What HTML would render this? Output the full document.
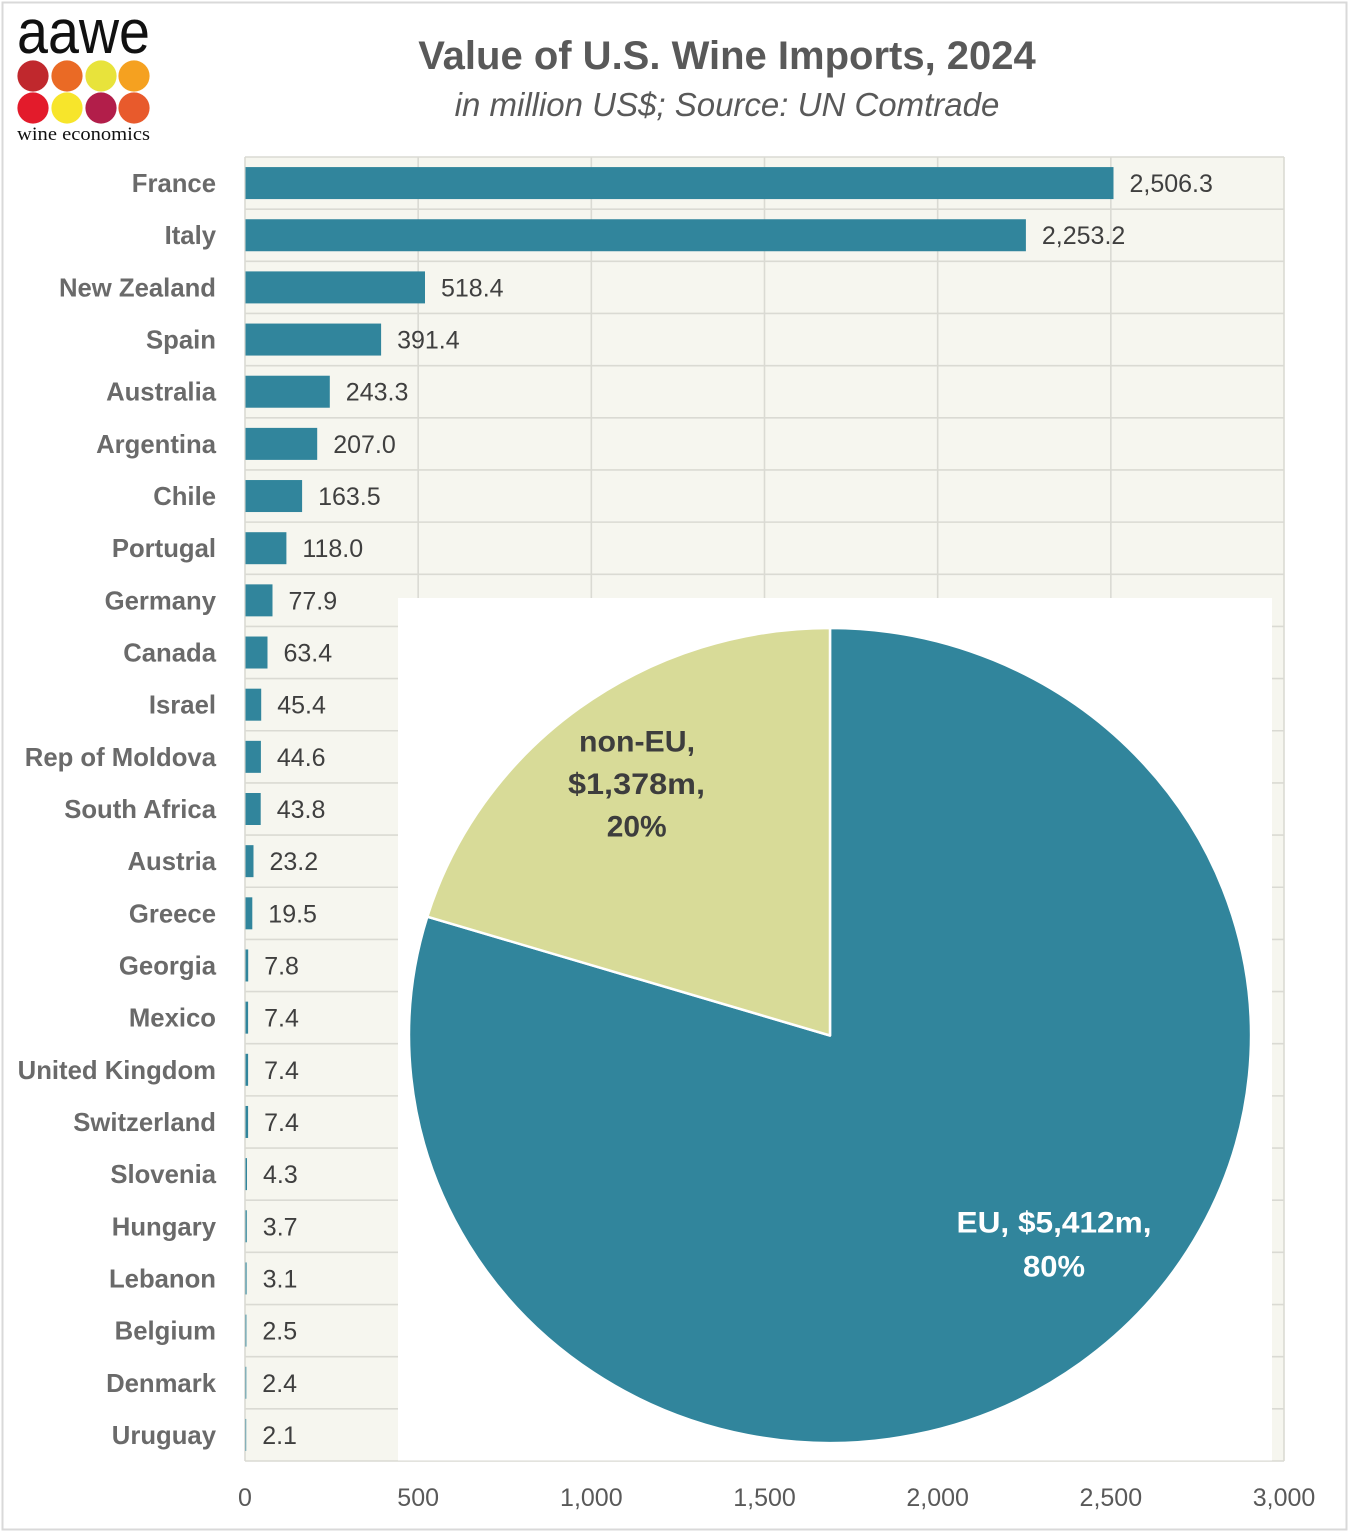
<!DOCTYPE html>
<html><head><meta charset="utf-8"><style>
html,body{margin:0;padding:0;background:#fff;}
svg{display:block;}
.cat{font-family:"Liberation Sans",sans-serif;font-weight:bold;font-size:25.7px;fill:#6a6a6a;text-anchor:end;}
.val{font-family:"Liberation Sans",sans-serif;font-size:25px;fill:#3f3f3f;}
.tick{font-family:"Liberation Sans",sans-serif;font-size:25px;fill:#595959;text-anchor:middle;}
</style></head><body>
<svg width="1351" height="1536" viewBox="0 0 1351 1536" xmlns="http://www.w3.org/2000/svg">
<rect x="0" y="0" width="1351" height="1536" fill="#fff"/>
<rect x="2.5" y="2.5" width="1344" height="1527" fill="none" stroke="#d9d9d9" stroke-width="2"/>

<!-- logo -->
<text x="17" y="53" font-family="Liberation Sans,sans-serif" font-size="62" fill="#111" textLength="133" lengthAdjust="spacingAndGlyphs">aawe</text>
<circle cx="33" cy="76" r="15.6" fill="#c0282d"/>
<circle cx="67" cy="76" r="15.6" fill="#ea6a25"/>
<circle cx="101" cy="76" r="15.6" fill="#e8e33b"/>
<circle cx="134" cy="76" r="15.6" fill="#f5a120"/>
<circle cx="33" cy="108" r="15.6" fill="#e31b2b"/>
<circle cx="67" cy="108" r="15.6" fill="#f7e52b"/>
<circle cx="101" cy="108" r="15.6" fill="#b21e4a"/>
<circle cx="134" cy="108" r="15.6" fill="#e85a2c"/>
<text x="17" y="140" font-family="Liberation Serif,serif" font-size="19" fill="#111" textLength="133" lengthAdjust="spacingAndGlyphs">wine economics</text>

<!-- titles -->
<text x="727" y="69" text-anchor="middle" font-family="Liberation Sans,sans-serif" font-weight="bold" font-size="40" fill="#595959">Value of U.S. Wine Imports, 2024</text>
<text x="727" y="116" text-anchor="middle" font-family="Liberation Sans,sans-serif" font-style="italic" font-size="33" fill="#595959">in million US$; Source: UN Comtrade</text>

<!-- plot area -->
<rect x="245" y="157" width="1039" height="1304" fill="#f6f6ef"/>
<path stroke="#dadad3" stroke-width="1.6" fill="none" d="
M245 157H1284 M245 209.16H1284 M245 261.32H1284 M245 313.48H1284 M245 365.64H1284 M245 417.8H1284 M245 469.96H1284 M245 522.12H1284 M245 574.28H1284 M245 626.44H1284 M245 678.6H1284 M245 730.76H1284 M245 782.92H1284 M245 835.08H1284 M245 887.24H1284 M245 939.4H1284 M245 991.56H1284 M245 1043.72H1284 M245 1095.88H1284 M245 1148.04H1284 M245 1200.2H1284 M245 1252.36H1284 M245 1304.52H1284 M245 1356.68H1284 M245 1408.84H1284 M245 1461H1284
M245 157V1461 M418.17 157V1461 M591.33 157V1461 M764.5 157V1461 M937.67 157V1461 M1110.83 157V1461 M1284 157V1461"/>

<!-- bars -->
<g fill="#31859c">
<rect x="245.5" y="167.08" width="868.0" height="32"/>
<rect x="245.5" y="219.24" width="780.4" height="32"/>
<rect x="245.5" y="271.4" width="179.5" height="32"/>
<rect x="245.5" y="323.56" width="135.6" height="32"/>
<rect x="245.5" y="375.72" width="84.3" height="32"/>
<rect x="245.5" y="427.88" width="71.7" height="32"/>
<rect x="245.5" y="480.04" width="56.6" height="32"/>
<rect x="245.5" y="532.2" width="40.9" height="32"/>
<rect x="245.5" y="584.36" width="27.0" height="32"/>
<rect x="245.5" y="636.52" width="22.0" height="32"/>
<rect x="245.5" y="688.68" width="15.7" height="32"/>
<rect x="245.5" y="740.84" width="15.4" height="32"/>
<rect x="245.5" y="793" width="15.2" height="32"/>
<rect x="245.5" y="845.16" width="8.0" height="32"/>
<rect x="245.5" y="897.32" width="6.8" height="32"/>
<rect x="245.5" y="949.48" width="2.7" height="32"/>
<rect x="245.5" y="1001.64" width="2.6" height="32"/>
<rect x="245.5" y="1053.8" width="2.6" height="32"/>
<rect x="245.5" y="1105.96" width="2.6" height="32"/>
<rect x="245.5" y="1158.12" width="1.5" height="32"/>
<rect x="245.5" y="1210.28" width="1.3" height="32"/>
<rect x="245.5" y="1262.44" width="1.1" height="32"/>
<rect x="245.5" y="1314.6" width="0.9" height="32"/>
<rect x="245.5" y="1366.76" width="0.8" height="32"/>
<rect x="245.5" y="1418.92" width="0.7" height="32"/>
</g>

<!-- value labels -->
<g class="val">
<text x="1129.5" y="192.1">2,506.3</text>
<text x="1041.9" y="244.2">2,253.2</text>
<text x="441.0" y="296.4">518.4</text>
<text x="397.1" y="348.6">391.4</text>
<text x="345.8" y="400.7">243.3</text>
<text x="333.2" y="452.9">207.0</text>
<text x="318.1" y="505.0">163.5</text>
<text x="302.4" y="557.2">118.0</text>
<text x="288.5" y="609.4">77.9</text>
<text x="283.5" y="661.5">63.4</text>
<text x="277.2" y="713.7">45.4</text>
<text x="276.9" y="765.8">44.6</text>
<text x="276.7" y="818.0">43.8</text>
<text x="269.5" y="870.2">23.2</text>
<text x="268.3" y="922.3">19.5</text>
<text x="264.2" y="974.5">7.8</text>
<text x="264.1" y="1026.6">7.4</text>
<text x="264.1" y="1078.8">7.4</text>
<text x="264.1" y="1131.0">7.4</text>
<text x="263.0" y="1183.1">4.3</text>
<text x="262.8" y="1235.3">3.7</text>
<text x="262.6" y="1287.4">3.1</text>
<text x="262.4" y="1339.6">2.5</text>
<text x="262.3" y="1391.8">2.4</text>
<text x="262.2" y="1443.9">2.1</text>
</g>

<!-- category labels -->
<g class="cat">
<text x="216" y="192.1">France</text>
<text x="216" y="244.2">Italy</text>
<text x="216" y="296.4">New Zealand</text>
<text x="216" y="348.6">Spain</text>
<text x="216" y="400.7">Australia</text>
<text x="216" y="452.9">Argentina</text>
<text x="216" y="505.0">Chile</text>
<text x="216" y="557.2">Portugal</text>
<text x="216" y="609.4">Germany</text>
<text x="216" y="661.5">Canada</text>
<text x="216" y="713.7">Israel</text>
<text x="216" y="765.8">Rep of Moldova</text>
<text x="216" y="818.0">South Africa</text>
<text x="216" y="870.2">Austria</text>
<text x="216" y="922.3">Greece</text>
<text x="216" y="974.5">Georgia</text>
<text x="216" y="1026.6">Mexico</text>
<text x="216" y="1078.8">United Kingdom</text>
<text x="216" y="1131.0">Switzerland</text>
<text x="216" y="1183.1">Slovenia</text>
<text x="216" y="1235.3">Hungary</text>
<text x="216" y="1287.4">Lebanon</text>
<text x="216" y="1339.6">Belgium</text>
<text x="216" y="1391.8">Denmark</text>
<text x="216" y="1443.9">Uruguay</text>
</g>

<!-- axis ticks -->
<g class="tick">
<text x="245" y="1506">0</text>
<text x="418.17" y="1506">500</text>
<text x="591.33" y="1506">1,000</text>
<text x="764.5" y="1506">1,500</text>
<text x="937.67" y="1506">2,000</text>
<text x="1110.83" y="1506">2,500</text>
<text x="1284" y="1506">3,000</text>
</g>

<!-- pie inset -->
<rect x="398" y="598" width="874" height="862.5" fill="#ffffff"/>
<path d="M830 1035.5 L830 628 A421 407.5 0 1 1 427.3 916.7 Z" fill="#31859c" stroke="#fff" stroke-width="2.5" stroke-linejoin="round"/>
<path d="M830 1035.5 L830 628 A421 407.5 0 0 0 427.3 916.7 Z" fill="#d8db98" stroke="#fff" stroke-width="2.5" stroke-linejoin="round"/>

<g font-family="Liberation Sans,sans-serif" font-weight="bold" font-size="30" text-anchor="middle">
<text x="637" y="751.5" fill="#3d3d3d" textLength="116" lengthAdjust="spacingAndGlyphs">non-EU,</text>
<text x="636.5" y="794" fill="#3d3d3d" textLength="137" lengthAdjust="spacingAndGlyphs">$1,378m,</text>
<text x="636.7" y="836.5" fill="#3d3d3d" textLength="60" lengthAdjust="spacingAndGlyphs">20%</text>
<text x="1054" y="1232.5" fill="#ffffff" textLength="195" lengthAdjust="spacingAndGlyphs">EU, $5,412m,</text>
<text x="1054" y="1276.5" fill="#ffffff" textLength="62" lengthAdjust="spacingAndGlyphs">80%</text>
</g>
</svg>
</body></html>
